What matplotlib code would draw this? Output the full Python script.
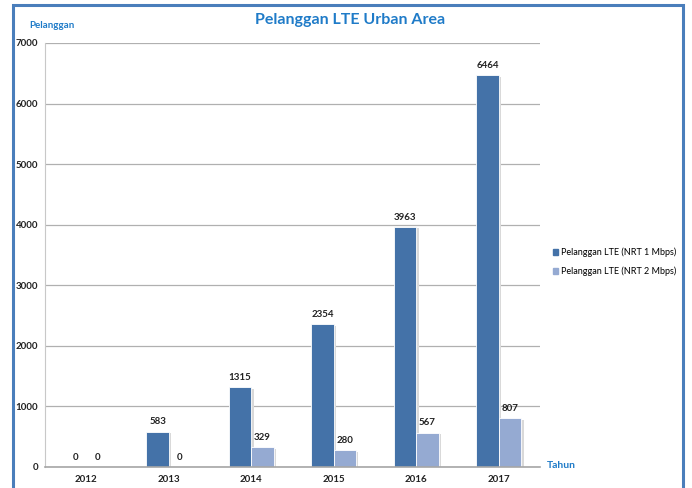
import matplotlib.pyplot as plt
import matplotlib.patches as mpatches
import numpy as np

# ── Data ───────────────────────────────────────────────────────────────────
years = ['2012', '2013', '2014', '2015', '2016', '2017']
nrt1 = [0, 583, 1315, 2354, 3963, 6464]
nrt2 = [0, 0, 329, 280, 567, 807]
labels = ['Pelanggan LTE (NRT 1 Mbps)', 'Pelanggan LTE (NRT 2 Mbps)']

DARK = '#4472a8'
LIGHT = '#95aad2'
BLUE_TXT = '#1f7bc8'
FONT = ['Lato', 'DejaVu Sans']

plt.rcParams['font.family'] = FONT

fig = plt.figure(figsize=(6.92, 4.88), dpi=100)
fig.patch.set_facecolor('white')

# outer blue frame
fig.patches.append(mpatches.Rectangle((13 / 692, -0.05), 670 / 692, 1.05 - 5 / 488,
                                      transform=fig.transFigure, fill=False,
                                      edgecolor='#4a7ebb', linewidth=2.2))

ax = fig.add_axes([45 / 692, 21 / 488, 495 / 692, 424 / 488])
x = np.arange(len(years))
w = 0.27

# soft shadows
for xs, vals in ((x - w / 2, nrt1), (x + w / 2, nrt2)):
    ax.bar(xs + 0.03, vals, w, bottom=-25, color='#d9d9d9', zorder=1)

b1 = ax.bar(x - w / 2, nrt1, w, color=DARK, edgecolor='white', linewidth=0.6,
            zorder=2, label=labels[0])
b2 = ax.bar(x + w / 2, nrt2, w, color=LIGHT, edgecolor='white', linewidth=0.6,
            zorder=2, label=labels[1])

for bars, vals in ((b1, nrt1), (b2, nrt2)):
    for rect, v in zip(bars, vals):
        ax.text(rect.get_x() + rect.get_width() / 2, v + 90, str(v),
                ha='center', va='bottom', fontsize=7, fontweight='bold',
                color='#222222')

ax.set_xlim(-0.5, len(years) - 0.5)
ax.set_ylim(0, 7000)
ax.set_yticks(range(0, 7001, 1000))
ax.set_xticks(x)
ax.set_xticklabels(years)
ax.tick_params(axis='both', length=0, labelsize=7, colors='#222222')
ax.tick_params(axis='y', pad=5)
ax.tick_params(axis='x', pad=6)
for t in ax.get_xticklabels() + ax.get_yticklabels():
    t.set_fontweight('bold')

ax.yaxis.grid(True, color='#b0b0b0', linewidth=0.9)
ax.set_axisbelow(True)
for s in ('top', 'right'):
    ax.spines[s].set_visible(False)
ax.spines['left'].set_color('#c8c8c8')
ax.spines['bottom'].set_color('#a6a6a6')
ax.spines['bottom'].set_linewidth(1.2)

# titles
fig.text(350 / 692, 1 - 20 / 488, 'Pelanggan LTE Urban Area', ha='center',
         va='center', fontsize=11.5, fontweight='bold', color=BLUE_TXT)
fig.text(29 / 692, 1 - 26 / 488, 'Pelanggan', ha='left', va='center',
         fontsize=7, fontweight='bold', color=BLUE_TXT)
fig.text(547 / 692, 1 - 466 / 488, 'Tahun', ha='left', va='center',
         fontsize=7.5, fontweight='bold', color=BLUE_TXT)

handles = [mpatches.Patch(color=DARK), mpatches.Patch(color=LIGHT)]
fig.legend(handles, labels, loc='center left',
           bbox_to_anchor=(549 / 692, 1 - 262 / 488), frameon=False,
           fontsize=6.5, handlelength=0.6, handleheight=0.6,
           handletextpad=0.3, labelspacing=1.0, borderaxespad=0)

plt.savefig('out.png', dpi=100, facecolor='white')
